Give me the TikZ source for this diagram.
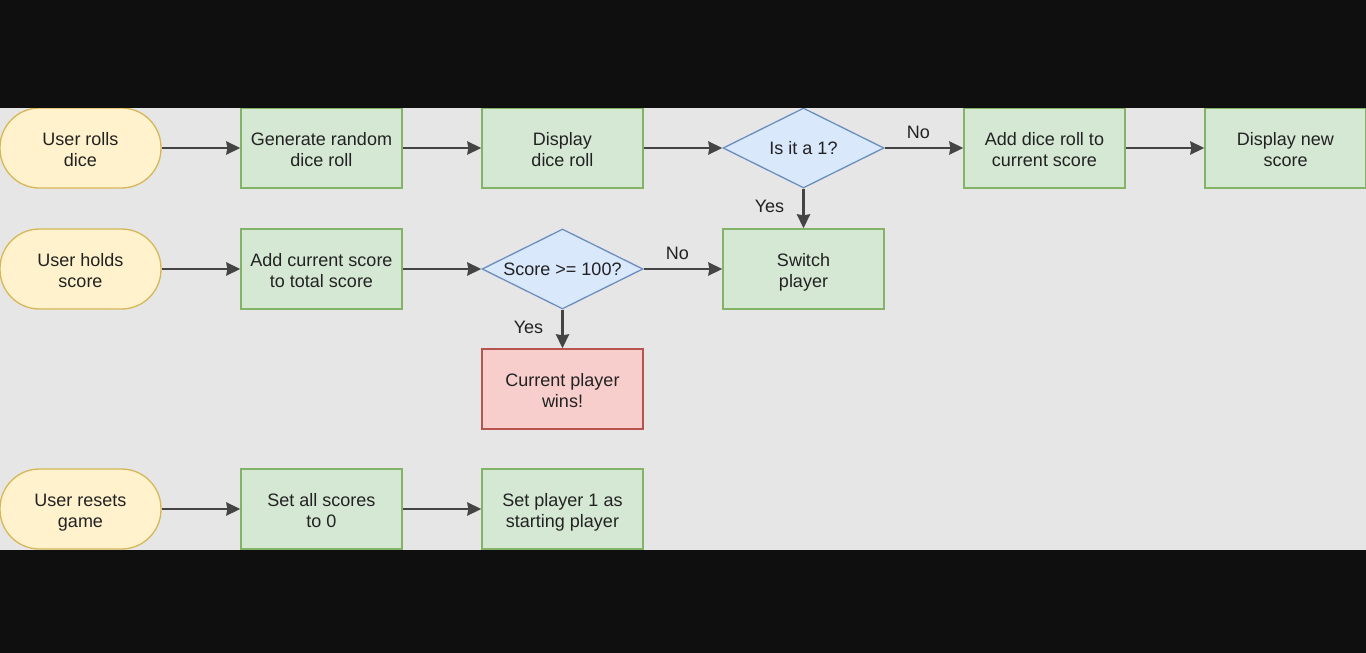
\documentclass[tikz,border=0pt]{standalone}
\usepackage{fontspec}
\setmainfont{Liberation Sans}
\usetikzlibrary{shapes.geometric,arrows.meta}
\definecolor{bgblack}{HTML}{0F0F0F}
\definecolor{bggray}{HTML}{E6E6E6}
\definecolor{yfill}{HTML}{FFF2CC}
\definecolor{ydraw}{HTML}{D6B656}
\definecolor{gfill}{HTML}{D5E8D4}
\definecolor{gdraw}{HTML}{82B366}
\definecolor{bfill}{HTML}{DAE8FC}
\definecolor{bdraw}{HTML}{6C8EBF}
\definecolor{rfill}{HTML}{F8CECC}
\definecolor{rdraw}{HTML}{B85450}
\definecolor{txt}{HTML}{222222}
\definecolor{arr}{HTML}{444444}
\tikzset{
  base/.style={line width=1.3pt, inner sep=0pt, minimum width=161pt, minimum height=80pt, align=center, text=txt,
    font=\fontsize{18pt}{20.5pt}\selectfont},
  boxtext/.style={text height=36pt, text depth=0pt},
  term/.style={base, boxtext, rectangle, rounded corners=39.5pt, fill=yfill, draw=ydraw},
  proc/.style={base, boxtext, rectangle, fill=gfill, draw=gdraw},
  win/.style={base, boxtext, rectangle, fill=rfill, draw=rdraw},
  dia/.style={base, diamond, aspect=2, fill=bfill, draw=bdraw},
  conn/.style={line width=2.7pt, draw=arr, -{Stealth[length=14pt,width=13pt,inset=1pt]}},
  lbl/.style={text=txt, font=\fontsize{18pt}{21pt}\selectfont, inner sep=0pt}
}
\begin{document}
\begin{tikzpicture}[x=1pt,y=-1pt]
\fill[bgblack] (0,0) rectangle (1366,653);
\useasboundingbox (0,0) rectangle (1366,653);
\fill[bggray] (0,108) rectangle (1366,550);
\begin{scope}
\clip (0,108) rectangle (1366,550);
% row 1
\node[term] (roll) at (80.5,148) {User rolls\\dice};
\node[proc] (gen) at (321.5,148) {Generate random\\dice roll};
\node[proc] (disp) at (562.5,148) {Display\\dice roll};
\node[dia, label={[lbl]center:Is it a 1?}] (one) at (803.5,148) {};
\node[proc] (add) at (1044.5,148) {Add dice roll to\\current score};
\node[proc] (newsc) at (1285.5,148) {Display new\\score};
% row 2
\node[term] (hold) at (80.5,269) {User holds\\score};
\node[proc] (total) at (321.5,269) {Add current score\\to total score};
\node[dia, label={[lbl]center:Score >= 100?}] (hund) at (562.5,269) {};
\node[proc] (switch) at (803.5,269) {Switch\\player};
\node[win] (wins) at (562.5,389) {Current player\\wins!};
% row 3
\node[term] (reset) at (80.5,509) {User resets\\game};
\node[proc] (zero) at (321.5,509) {Set all scores\\to 0};
\node[proc] (start) at (562.5,509) {Set player 1 as\\starting player};
\end{scope}
% connectors
\draw[conn] (roll) -- (gen);
\draw[conn] (gen) -- (disp);
\draw[conn] (disp) -- (one);
\draw[conn] (one) -- node[lbl, pos=0.43, above=8pt] (no1) {No} (add);
\draw[conn] (add) -- (newsc);
\draw[conn] (one) -- node[lbl, pos=0.45, left=18pt] (yes1) {Yes} (switch);
\draw[conn] (hold) -- (total);
\draw[conn] (total) -- (hund);
\draw[conn] (hund) -- node[lbl, pos=0.43, above=8pt] (no2) {No} (switch);
\draw[conn] (hund) -- node[lbl, pos=0.45, left=18pt] (yes2) {Yes} (wins);
\draw[conn] (reset) -- (zero);
\draw[conn] (zero) -- (start);
\end{tikzpicture}
\end{document}
